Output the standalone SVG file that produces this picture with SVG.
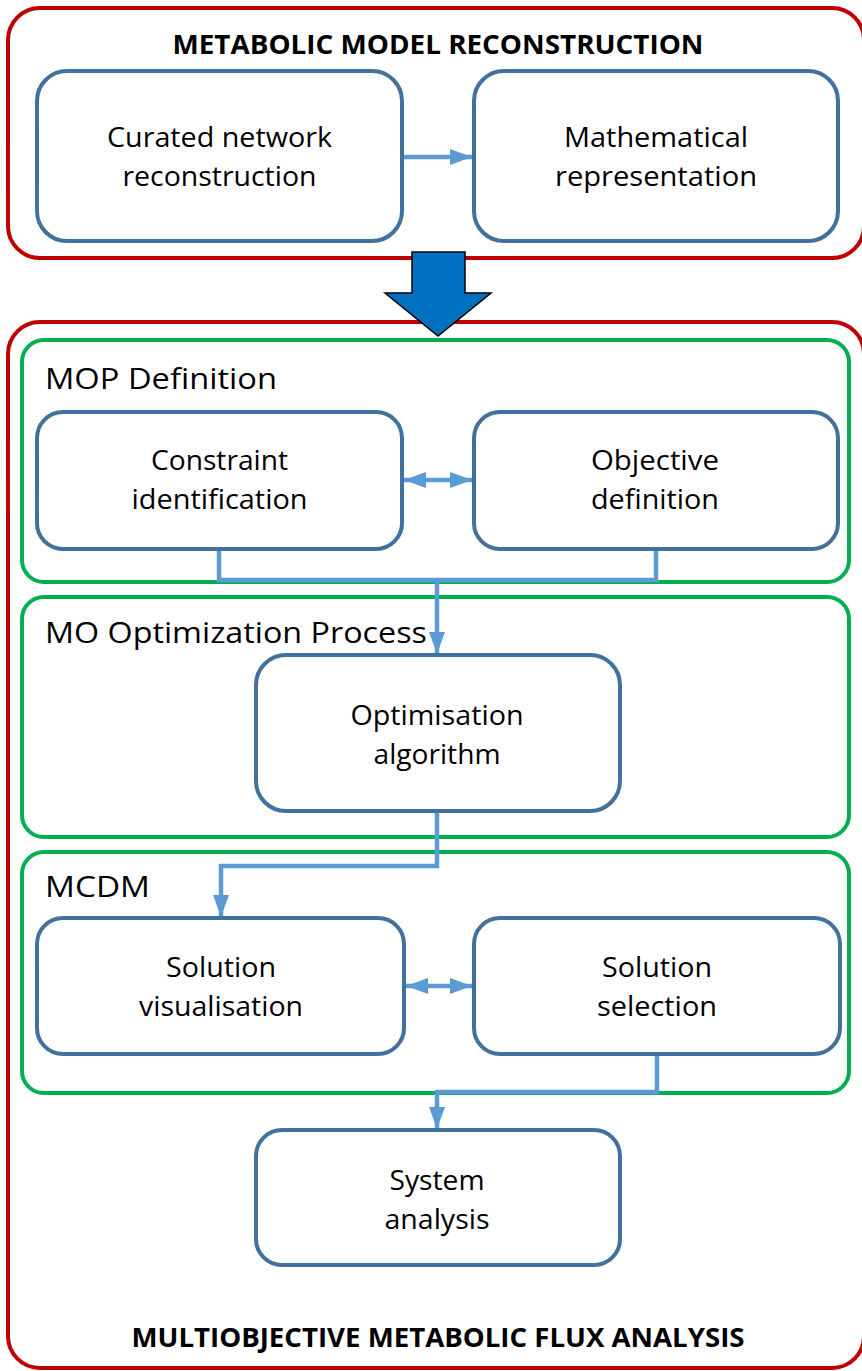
<svg xmlns="http://www.w3.org/2000/svg" width="862" height="1371" viewBox="0 0 862 1371">
  <style>
    .frame { fill: none; stroke: #C00000; stroke-width: 4; }
    .stage { fill: none; stroke: #00B050; stroke-width: 4; }
    .box { fill: #FFFFFF; stroke: #41719C; stroke-width: 4; }
    .link { fill: none; stroke: #5B9BD5; stroke-width: 4.5; }
    .lbl { font-family: "Open Sans", "Noto Sans", "Liberation Sans", sans-serif; font-size: 27px; fill: #000; text-anchor: middle; }
    .stitle { font-family: "Open Sans", "Noto Sans", "Liberation Sans", sans-serif; font-size: 29px; fill: #000; }
    .title { font-family: "Open Sans", "Noto Sans", "Liberation Sans", sans-serif; font-size: 27px; font-weight: bold; fill: #000; text-anchor: middle; }
  </style>
  <defs>
    <marker id="head" markerUnits="userSpaceOnUse" markerWidth="24" markerHeight="16" refX="22" refY="8" orient="auto-start-reverse">
      <path d="M0,0 L22,8 L0,16 Z" fill="#5B9BD5"/>
    </marker>
  </defs>

  <rect width="862" height="1371" fill="#FFFFFF"/>

  <!-- outer frames -->
  <g id="reconstruction-frame">
    <rect class="frame" x="8" y="8" width="856" height="250" rx="32"/>
    <text class="title" x="438" y="54" textLength="531" lengthAdjust="spacingAndGlyphs">METABOLIC MODEL RECONSTRUCTION</text>
  </g>
  <g id="mofba-frame">
    <rect class="frame" x="8" y="322" width="856" height="1046" rx="32"/>
    <text class="title" x="438" y="1347" textLength="613" lengthAdjust="spacingAndGlyphs">MULTIOBJECTIVE METABOLIC FLUX ANALYSIS</text>
  </g>

  <!-- stage frames -->
  <g id="mop-stage">
    <rect class="stage" x="22" y="340" width="827" height="242" rx="22"/>
    <text class="stitle" x="45" y="389" textLength="232" lengthAdjust="spacingAndGlyphs">MOP Definition</text>
  </g>
  <g id="mo-stage">
    <rect class="stage" x="22" y="597" width="827" height="240" rx="22"/>
    <text class="stitle" x="45" y="643" textLength="382" lengthAdjust="spacingAndGlyphs">MO Optimization Process</text>
  </g>
  <g id="mcdm-stage">
    <rect class="stage" x="22" y="852" width="827" height="241" rx="22"/>
    <text class="stitle" x="45" y="897" textLength="105" lengthAdjust="spacingAndGlyphs">MCDM</text>
  </g>

  <!-- connectors -->
  <g id="connectors">
    <line class="link" x1="402" y1="157" x2="472" y2="157" marker-end="url(#head)"/>
    <line class="link" x1="404" y1="480" x2="472" y2="480" marker-start="url(#head)" marker-end="url(#head)"/>
    <polyline class="link" points="219,549 219,580 656,580 656,549"/>
    <line class="link" x1="437" y1="580" x2="437" y2="654" marker-end="url(#head)"/>
    <polyline class="link" points="437,811 437,866 221,866 221,917" marker-end="url(#head)"/>
    <line class="link" x1="406" y1="986" x2="472" y2="986" marker-start="url(#head)" marker-end="url(#head)"/>
    <polyline class="link" points="657,1054 657,1092 437,1092 437,1129" marker-end="url(#head)"/>
  </g>

  <!-- block arrow between the two phases -->
  <g id="phase-arrow">
    <polygon points="412,252 465,252 465,293 491,293 438,336 385,293 412,293" fill="#0070C0" stroke="#000" stroke-width="1.5" stroke-linejoin="miter"/>
  </g>

  <!-- process nodes -->
  <g id="curated-network">
    <rect class="box" x="37" y="71" width="365" height="170" rx="30"/>
    <text class="lbl" x="219.5" y="147" textLength="225" lengthAdjust="spacingAndGlyphs">Curated network</text>
    <text class="lbl" x="219.5" y="186" textLength="194" lengthAdjust="spacingAndGlyphs">reconstruction</text>
  </g>
  <g id="math-representation">
    <rect class="box" x="474" y="71" width="364" height="170" rx="30"/>
    <text class="lbl" x="656" y="147" textLength="184" lengthAdjust="spacingAndGlyphs">Mathematical</text>
    <text class="lbl" x="656" y="186" textLength="202" lengthAdjust="spacingAndGlyphs">representation</text>
  </g>
  <g id="constraint-identification">
    <rect class="box" x="37" y="412" width="365" height="137" rx="26"/>
    <text class="lbl" x="219.5" y="470" textLength="137" lengthAdjust="spacingAndGlyphs">Constraint</text>
    <text class="lbl" x="219.5" y="509" textLength="176" lengthAdjust="spacingAndGlyphs">identification</text>
  </g>
  <g id="objective-definition">
    <rect class="box" x="474" y="412" width="364" height="137" rx="26"/>
    <text class="lbl" x="655" y="470" textLength="128" lengthAdjust="spacingAndGlyphs">Objective</text>
    <text class="lbl" x="655" y="509" textLength="128" lengthAdjust="spacingAndGlyphs">definition</text>
  </g>
  <g id="optimisation-algorithm">
    <rect class="box" x="256" y="655" width="364" height="156" rx="30"/>
    <text class="lbl" x="437" y="725" textLength="173" lengthAdjust="spacingAndGlyphs">Optimisation</text>
    <text class="lbl" x="437" y="764" textLength="127" lengthAdjust="spacingAndGlyphs">algorithm</text>
  </g>
  <g id="solution-visualisation">
    <rect class="box" x="37" y="918" width="367" height="136" rx="26"/>
    <text class="lbl" x="221" y="977" textLength="110" lengthAdjust="spacingAndGlyphs">Solution</text>
    <text class="lbl" x="221" y="1016" textLength="164" lengthAdjust="spacingAndGlyphs">visualisation</text>
  </g>
  <g id="solution-selection">
    <rect class="box" x="474" y="918" width="366" height="136" rx="26"/>
    <text class="lbl" x="657" y="977" textLength="110" lengthAdjust="spacingAndGlyphs">Solution</text>
    <text class="lbl" x="657" y="1016" textLength="120" lengthAdjust="spacingAndGlyphs">selection</text>
  </g>
  <g id="system-analysis">
    <rect class="box" x="256" y="1130" width="364" height="135" rx="26"/>
    <text class="lbl" x="437" y="1190" textLength="95" lengthAdjust="spacingAndGlyphs">System</text>
    <text class="lbl" x="437" y="1229" textLength="105" lengthAdjust="spacingAndGlyphs">analysis</text>
  </g>
</svg>
